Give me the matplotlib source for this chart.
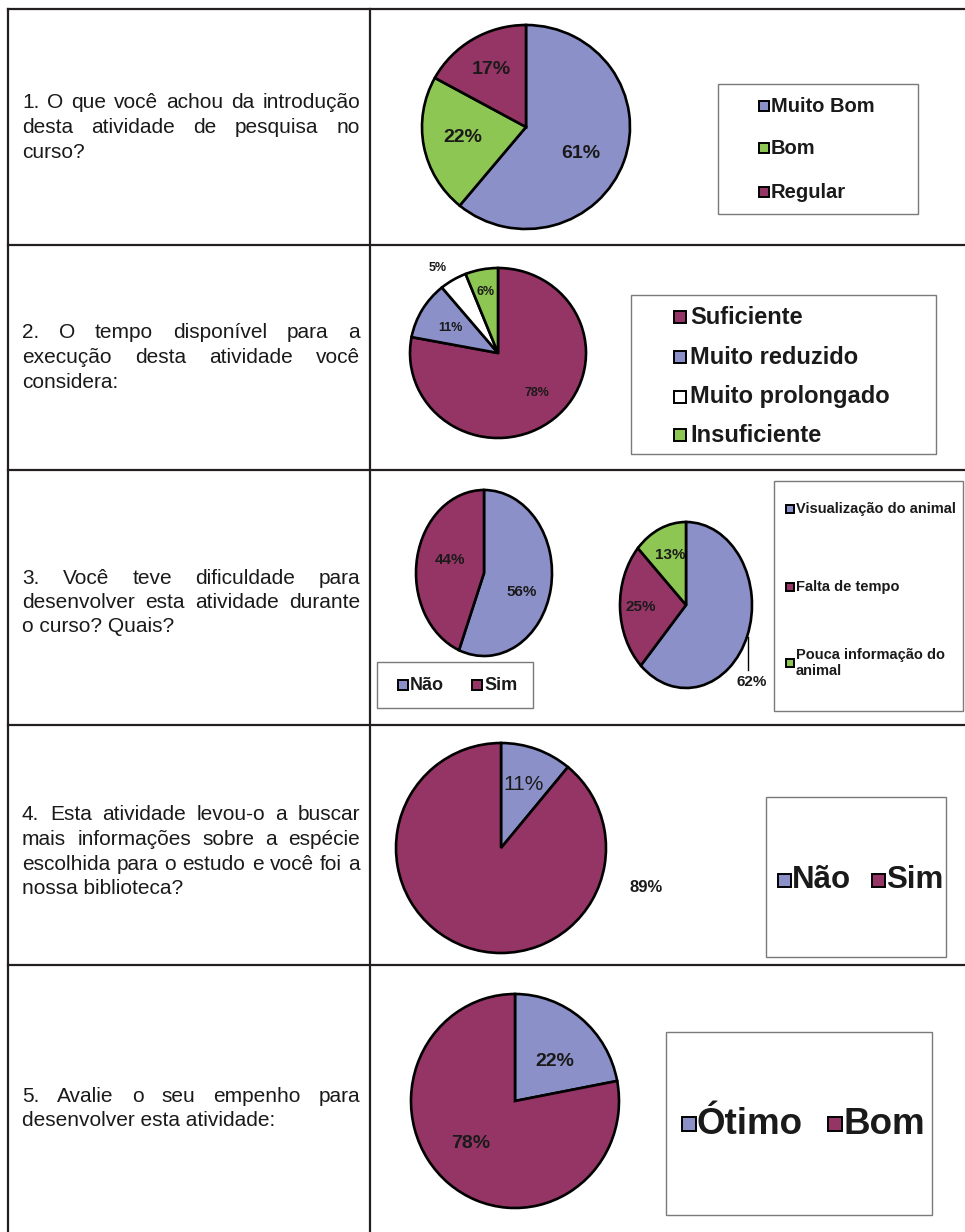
import matplotlib
matplotlib.use("Agg")
import matplotlib.pyplot as plt
from matplotlib.patches import Rectangle
from matplotlib import font_manager

# ---- data ----
q1_labels = ["Muito Bom", "Bom", "Regular"]
q1_values = [61, 22, 17]

q2_labels = ["Suficiente", "Muito reduzido", "Muito prolongado", "Insuficiente"]
q2_values = [78, 11, 5, 6]

q3a_labels = ["Não", "Sim"]
q3a_values = [56, 44]

q3b_labels = ["Visualização do animal", "Falta de tempo", "Pouca informação do\nanimal"]
q3b_values = [62, 25, 13]

q4_labels = ["Não", "Sim"]
q4_values = [11, 89]

q5_labels = ["Ótimo", "Bom"]
q5_values = [22, 78]

questions = [
    ["1. O que você achou da introdução", "desta atividade de pesquisa no", "curso?"],
    ["2. O tempo disponível para a", "execução desta atividade você", "considera:"],
    ["3. Você teve dificuldade para", "desenvolver esta atividade durante", "o curso? Quais?"],
    ["4. Esta atividade levou-o a buscar", "mais informações sobre a espécie",
     "escolhida para o estudo e você foi a", "nossa biblioteca?"],
    ["5. Avalie o seu empenho para", "desenvolver esta atividade:"],
]

BLUE = "#8B90C8"
GREEN = "#8DC652"
RED = "#953566"
WHITE = "#FFFFFF"
LINE = "#231F20"
INK = "#1a1a1a"

names = {f.name for f in font_manager.fontManager.ttflist}
SANS = "Liberation Sans" if "Liberation Sans" in names else "DejaVu Sans"
NARROW = "Liberation Sans Narrow" if "Liberation Sans Narrow" in names else SANS
plt.rcParams["font.family"] = SANS

W, H = 965, 1232
fig = plt.figure(figsize=(W / 100, H / 100), dpi=100)
ax = fig.add_axes([0, 0, 1, 1])
ax.set_xlim(0, W)
ax.set_ylim(H, 0)
ax.axis("off")
ax.set_zorder(10)   # keep text and grid above the pie axes

# ---- table grid ----
lw_tab = 1.6
ax.plot([8, 8], [9, H], color=LINE, lw=lw_tab)
ax.plot([8, W], [9, 9], color=LINE, lw=lw_tab)
ax.plot([370, 370], [9, H], color=LINE, lw=lw_tab)
for y in [245, 470, 725, 965]:
    ax.plot([8, W], [y, y], color=LINE, lw=lw_tab)

# ---- justified question text ----
renderer = fig.canvas.get_renderer()


def text_width(s, size):
    t = ax.text(0, 0, s, fontsize=size)
    w = t.get_window_extent(renderer).width
    t.remove()
    return w


def justify(lines, y0, x0=22, x1=360, size=15, step=24.5):
    for i, line in enumerate(lines):
        y = y0 + i * step
        words = line.split(" ")
        if i == len(lines) - 1 or len(words) == 1:
            ax.text(x0, y, line, fontsize=size, va="center", ha="left", color=INK)
            continue
        widths = [text_width(w, size) for w in words]
        gap = (x1 - x0 - sum(widths)) / (len(words) - 1)
        x = x0
        for w, wd in zip(words, widths):
            ax.text(x, y, w, fontsize=size, va="center", ha="left", color=INK)
            x += wd + gap


justify(questions[0], 103)
justify(questions[1], 333)
justify(questions[2], 578)
justify(questions[3], 815)
justify(questions[4], 1096)


# ---- pies ----
def pie_at(values, colors, cx, cy, rx, ry):
    pad = 1.08
    pax = fig.add_axes([(cx - rx * pad) / W, 1 - (cy + ry * pad) / H,
                        2 * rx * pad / W, 2 * ry * pad / H])
    pax.pie(values, colors=colors, startangle=90, counterclock=False,
            wedgeprops=dict(edgecolor="black", linewidth=1.9))
    pax.set_aspect("auto")
    pax.set_xlim(-pad, pad)
    pax.set_ylim(-pad, pad)
    pax.axis("off")
    return pax


pie_at(q1_values, [BLUE, GREEN, RED], 526, 127, 104, 102)
pie_at(q2_values, [RED, BLUE, WHITE, GREEN], 498, 353, 88, 85)
pie_at(q3a_values, [BLUE, RED], 484, 573, 68, 83)
pie_at(q3b_values, [BLUE, RED, GREEN], 686, 605, 66, 83)
pie_at(q4_values, [BLUE, RED], 501, 848, 105, 105)
pie_at(q5_values, [BLUE, RED], 515, 1101, 104, 107)


def pct(v):
    return f"{v}%"


# slice labels
for v, (x, y) in zip(q1_values, [(581, 153), (463, 138), (491, 70)]):
    ax.text(x, y, pct(v), fontsize=14, weight="bold", ha="center", va="center", color=INK)
for v, (x, y) in zip(q2_values, [(537, 393), (450, 328), (438, 268), (486, 292)]):
    ax.text(x, y, pct(v), fontsize=9, weight="bold", ha="center", va="center", color=INK)
for v, (x, y) in zip(q3a_values, [(522, 592), (450, 560)]):
    ax.text(x, y, pct(v), fontsize=11, weight="bold", ha="center", va="center",
            family=NARROW, color=INK)
for v, (x, y) in zip(q3b_values, [(752, 682), (641, 607), (670, 555)]):
    ax.text(x, y, pct(v), fontsize=11, weight="bold", ha="center", va="center",
            family=NARROW, color=INK)
ax.plot([748, 748], [637, 670], color="black", lw=1.0)
ax.text(524, 785, pct(q4_values[0]), fontsize=15, ha="center", va="center", color=INK)
ax.text(646, 887, pct(q4_values[1]), fontsize=12, weight="bold", ha="center", va="center", color=INK)
ax.text(555, 1062, pct(q5_values[0]), fontsize=14, weight="bold", ha="center", va="center", color=INK)
ax.text(471, 1143, pct(q5_values[1]), fontsize=14, weight="bold", ha="center", va="center", color=INK)


# ---- legends ----
def frame(x0, y0, x1, y1):
    ax.add_patch(Rectangle((x0, y0), x1 - x0, y1 - y0, fill=False,
                           edgecolor="#7a7a7a", lw=1.0))


def entry(mx, y, size, color, label, tx, fs, weight="bold", family=None, lsp=1.0):
    ax.add_patch(Rectangle((mx - size / 2, y - size / 2), size, size,
                           facecolor=color, edgecolor="black", lw=1.4))
    ax.text(tx, y, label, fontsize=fs, weight=weight, ha="left", va="center",
            family=family or SANS, color=INK, linespacing=lsp)


frame(718, 84, 918, 214)
for lab, col, y in zip(q1_labels, [BLUE, GREEN, RED], [106, 148, 192]):
    entry(764, y, 10, col, lab, 771, 14.5)

frame(631, 295, 936, 454)
for lab, col, y in zip(q2_labels, [RED, BLUE, WHITE, GREEN], [317, 357, 397, 435]):
    entry(680, y, 12, col, lab, 690, 17)

frame(377, 662, 533, 708)
for lab, col, mx in zip(q3a_labels, [BLUE, RED], [403, 477]):
    entry(mx, 685, 10, col, lab, mx + 7, 13, family=NARROW)

frame(774, 481, 963, 711)
entry(790, 509, 8, BLUE, q3b_labels[0], 796, 10.5, family=NARROW)
entry(790, 587, 8, RED, q3b_labels[1], 796, 10.5, family=NARROW)
entry(790, 663, 8, GREEN, q3b_labels[2], 796, 10.5, family=NARROW, lsp=1.25)

frame(766, 797, 946, 957)
for lab, col, mx in zip(q4_labels, [BLUE, RED], [784, 878]):
    entry(mx, 880, 13, col, lab, mx + 8, 22.5)

frame(666, 1032, 932, 1215)
for lab, col, mx in zip(q5_labels, [BLUE, RED], [689, 835]):
    entry(mx, 1124, 14, col, lab, mx + 8, 26.5)

fig.savefig("out.png", dpi=100, facecolor="white")
